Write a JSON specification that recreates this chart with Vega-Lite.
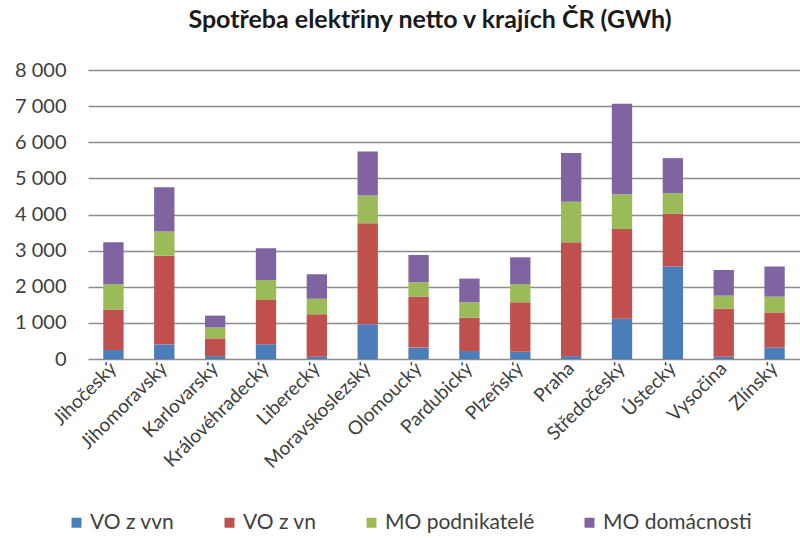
{
  "$schema": "https://vega.github.io/schema/vega-lite/v6.json",
  "width": 712,
  "height": 289,
  "autosize": {"type": "none"},
  "padding": {"left": 88, "top": 70, "right": 0, "bottom": 179},
  "background": "white",
  "title": {
    "text": "Spotřeba elektřiny netto v krajích ČR (GWh)",
    "font": "Lato",
    "fontSize": 25,
    "fontWeight": "bold",
    "color": "#1a1a1a",
    "anchor": "middle",
    "frame": "group",
    "dx": -14,
    "offset": 27
  },
  "config": {
    "view": {"stroke": null},
    "font": "Lato"
  },
  "data": {
    "values": [
      {"kraj": "Jihočeský", "typ": "VO z vvn", "gwh": 250},
      {"kraj": "Jihočeský", "typ": "VO z vn", "gwh": 1110},
      {"kraj": "Jihočeský", "typ": "MO podnikatelé", "gwh": 710},
      {"kraj": "Jihočeský", "typ": "MO domácnosti", "gwh": 1160},
      {"kraj": "Jihomoravský", "typ": "VO z vvn", "gwh": 405},
      {"kraj": "Jihomoravský", "typ": "VO z vn", "gwh": 2455},
      {"kraj": "Jihomoravský", "typ": "MO podnikatelé", "gwh": 670},
      {"kraj": "Jihomoravský", "typ": "MO domácnosti", "gwh": 1225},
      {"kraj": "Karlovarský", "typ": "VO z vvn", "gwh": 80},
      {"kraj": "Karlovarský", "typ": "VO z vn", "gwh": 490},
      {"kraj": "Karlovarský", "typ": "MO podnikatelé", "gwh": 305},
      {"kraj": "Karlovarský", "typ": "MO domácnosti", "gwh": 325},
      {"kraj": "Královéhradecký", "typ": "VO z vvn", "gwh": 405},
      {"kraj": "Královéhradecký", "typ": "VO z vn", "gwh": 1230},
      {"kraj": "Královéhradecký", "typ": "MO podnikatelé", "gwh": 555},
      {"kraj": "Královéhradecký", "typ": "MO domácnosti", "gwh": 875},
      {"kraj": "Liberecký", "typ": "VO z vvn", "gwh": 60},
      {"kraj": "Liberecký", "typ": "VO z vn", "gwh": 1180},
      {"kraj": "Liberecký", "typ": "MO podnikatelé", "gwh": 430},
      {"kraj": "Liberecký", "typ": "MO domácnosti", "gwh": 675},
      {"kraj": "Moravskoslezský", "typ": "VO z vvn", "gwh": 960},
      {"kraj": "Moravskoslezský", "typ": "VO z vn", "gwh": 2800},
      {"kraj": "Moravskoslezský", "typ": "MO podnikatelé", "gwh": 765},
      {"kraj": "Moravskoslezský", "typ": "MO domácnosti", "gwh": 1220},
      {"kraj": "Olomoucký", "typ": "VO z vvn", "gwh": 315},
      {"kraj": "Olomoucký", "typ": "VO z vn", "gwh": 1415},
      {"kraj": "Olomoucký", "typ": "MO podnikatelé", "gwh": 395},
      {"kraj": "Olomoucký", "typ": "MO domácnosti", "gwh": 755},
      {"kraj": "Pardubický", "typ": "VO z vvn", "gwh": 220},
      {"kraj": "Pardubický", "typ": "VO z vn", "gwh": 925},
      {"kraj": "Pardubický", "typ": "MO podnikatelé", "gwh": 425},
      {"kraj": "Pardubický", "typ": "MO domácnosti", "gwh": 655},
      {"kraj": "Plzeňský", "typ": "VO z vvn", "gwh": 200},
      {"kraj": "Plzeňský", "typ": "VO z vn", "gwh": 1370},
      {"kraj": "Plzeňský", "typ": "MO podnikatelé", "gwh": 500},
      {"kraj": "Plzeňský", "typ": "MO domácnosti", "gwh": 745},
      {"kraj": "Praha", "typ": "VO z vvn", "gwh": 80},
      {"kraj": "Praha", "typ": "VO z vn", "gwh": 3150},
      {"kraj": "Praha", "typ": "MO podnikatelé", "gwh": 1120},
      {"kraj": "Praha", "typ": "MO domácnosti", "gwh": 1350},
      {"kraj": "Středočeský", "typ": "VO z vvn", "gwh": 1115},
      {"kraj": "Středočeský", "typ": "VO z vn", "gwh": 2485},
      {"kraj": "Středočeský", "typ": "MO podnikatelé", "gwh": 960},
      {"kraj": "Středočeský", "typ": "MO domácnosti", "gwh": 2505},
      {"kraj": "Ústecký", "typ": "VO z vvn", "gwh": 2560},
      {"kraj": "Ústecký", "typ": "VO z vn", "gwh": 1455},
      {"kraj": "Ústecký", "typ": "MO podnikatelé", "gwh": 575},
      {"kraj": "Ústecký", "typ": "MO domácnosti", "gwh": 970},
      {"kraj": "Vysočina", "typ": "VO z vvn", "gwh": 60},
      {"kraj": "Vysočina", "typ": "VO z vn", "gwh": 1340},
      {"kraj": "Vysočina", "typ": "MO podnikatelé", "gwh": 355},
      {"kraj": "Vysočina", "typ": "MO domácnosti", "gwh": 710},
      {"kraj": "Zlínský", "typ": "VO z vvn", "gwh": 315},
      {"kraj": "Zlínský", "typ": "VO z vn", "gwh": 975},
      {"kraj": "Zlínský", "typ": "MO podnikatelé", "gwh": 435},
      {"kraj": "Zlínský", "typ": "MO domácnosti", "gwh": 835}
    ]
  },
  "mark": {"type": "bar"},
  "encoding": {
    "x": {
      "field": "kraj",
      "type": "nominal",
      "sort": null,
      "scale": {"paddingInner": 0.6, "paddingOuter": 0.3},
      "axis": {
        "title": null,
        "labelAngle": -45,
        "labelAlign": "right",
        "labelBaseline": "middle",
        "labelFont": "Lato",
        "labelFontSize": 19,
        "labelColor": "#404040",
        "labelPadding": 6,
        "ticks": false,
        "domain": false,
        "grid": false
      }
    },
    "y": {
      "field": "gwh",
      "type": "quantitative",
      "aggregate": "sum",
      "stack": "zero",
      "scale": {"domain": [0, 8000], "nice": false},
      "axis": {
        "title": null,
        "values": [0, 1000, 2000, 3000, 4000, 5000, 6000, 7000, 8000],
        "labelExpr": "replace(format(datum.value, ','), ',', ' ')",
        "labelFont": "Lato",
        "labelFontSize": 20,
        "labelColor": "#404040",
        "labelPadding": 22,
        "ticks": false,
        "domain": false,
        "grid": true,
        "gridColor": "#8c8c8c",
        "gridWidth": 1.5
      }
    },
    "color": {
      "field": "typ",
      "type": "nominal",
      "sort": ["VO z vvn", "VO z vn", "MO podnikatelé", "MO domácnosti"],
      "scale": {
        "domain": ["VO z vvn", "VO z vn", "MO podnikatelé", "MO domácnosti"],
        "range": ["#4a7ebb", "#c0504d", "#9bbb59", "#8064a2"]
      },
      "legend": {
        "title": null,
        "orient": "none",
        "direction": "horizontal",
        "legendX": -22,
        "legendY": 442,
        "symbolType": "square",
        "symbolSize": 100,
        "symbolStrokeWidth": 0,
        "labelFont": "Lato",
        "labelFontSize": 21,
        "labelColor": "#404040",
        "labelOffset": 3,
        "columnPadding": 44
      }
    }
  }
}
